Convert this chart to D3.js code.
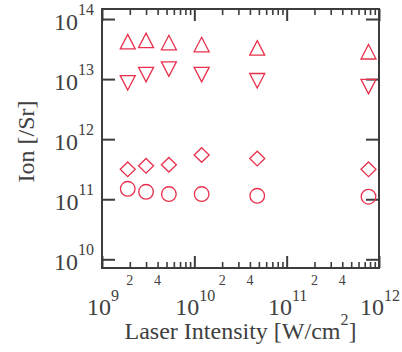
<!DOCTYPE html>
<html><head><meta charset="utf-8">
<script src="https://cdn.jsdelivr.net/npm/d3@7"></script>
<style>
html,body{margin:0;padding:0;background:#fff;}
svg{display:block;font-family:"Liberation Serif","Times New Roman",serif;}
</style></head>
<body><svg id="c" width="402" height="352"></svg>
<script>
const intensity = [1.9e9, 3.0e9, 5.3e9, 1.2e10, 4.8e10, 7.7e11];
const ionUp     = [4.2e13, 4.4e13, 4.05e13, 3.75e13, 3.3e13, 2.85e13];
const ionDown   = [8.7e12, 1.19e13, 1.47e13, 1.19e13, 9.4e12, 7.5e12];
const ionDiam   = [3.15e11, 3.6e11, 3.75e11, 5.45e11, 4.75e11, 3.15e11];
const ionCirc   = [1.49e11, 1.33e11, 1.22e11, 1.22e11, 1.14e11, 1.10e11];
const xMajor = [1e9, 1e10, 1e11, 1e12];
const xMajorExp = ["9", "10", "11", "12"];
const yMajor = [1e10, 1e11, 1e12, 1e13, 1e14];
const yMajorExp = ["10", "11", "12", "13", "14"];
const xMinorLabels = ["2", "4"];

const axisCol = "#3c3c3c", textCol = "#404040", red = "#e8304c";
const L = 102, R = 379, T = 9, B = 268;
const svg = d3.select("#c");

const x = d3.scaleLog().domain([1e9, 1e12]).range([L, R]);
const y = d3.scaleLog().domain([Math.pow(10, 9.855), Math.pow(10, 14.167)]).range([B, T]);

// minor x ticks
const xMinor = [];
for (const m of [1e9, 1e10, 1e11]) for (let k = 2; k <= 9; k++) xMinor.push(k * m);

function styleAxis(g){
  g.select(".domain").remove();
  g.selectAll(".tick line").attr("stroke", axisCol);
  g.selectAll("text").remove();
}
// bottom
svg.append("g").attr("transform", `translate(0,${B})`)
  .call(d3.axisBottom(x).tickValues(xMinor).tickSize(-6).tickFormat(""))
  .call(styleAxis).selectAll(".tick line").attr("stroke-width", 1.6);
svg.append("g").attr("transform", `translate(0,${B})`)
  .call(d3.axisBottom(x).tickValues(xMajor).tickSize(-12).tickFormat(""))
  .call(styleAxis).selectAll(".tick line").attr("stroke-width", 2);
// top
svg.append("g").attr("transform", `translate(0,${T})`)
  .call(d3.axisTop(x).tickValues(xMinor).tickSize(-6).tickFormat(""))
  .call(styleAxis).selectAll(".tick line").attr("stroke-width", 1.6);
svg.append("g").attr("transform", `translate(0,${T})`)
  .call(d3.axisTop(x).tickValues(xMajor).tickSize(-12).tickFormat(""))
  .call(styleAxis).selectAll(".tick line").attr("stroke-width", 2);
// left/right
svg.append("g").attr("transform", `translate(${L},0)`)
  .call(d3.axisLeft(y).tickValues(yMajor).tickSize(-13).tickFormat(""))
  .call(styleAxis).selectAll(".tick line").attr("stroke-width", 2);
svg.append("g").attr("transform", `translate(${R},0)`)
  .call(d3.axisRight(y).tickValues(yMajor).tickSize(-13).tickFormat(""))
  .call(styleAxis).selectAll(".tick line").attr("stroke-width", 2);

// frame
svg.append("rect").attr("x", L).attr("y", T).attr("width", R - L).attr("height", B - T)
  .attr("fill", "none").attr("stroke", axisCol).attr("stroke-width", 2);

// y tick labels
yMajor.forEach((v, i) => {
  const t = svg.append("text").attr("x", 94).attr("y", y(v) + 10.5)
    .attr("text-anchor", "end").attr("fill", textCol).attr("font-size", 24);
  t.append("tspan").text("10");
  t.append("tspan").attr("font-size", 16).attr("dy", -14.5).text(yMajorExp[i]);
});
// x major labels
xMajor.forEach((v, i) => {
  const t = svg.append("text").attr("x", x(v) + 1).attr("y", 315)
    .attr("text-anchor", "middle").attr("fill", textCol).attr("font-size", 24);
  t.append("tspan").text("10");
  t.append("tspan").attr("font-size", 16).attr("dy", -14).text(xMajorExp[i]);
});
// x minor labels
for (const m of [1e9, 1e10, 1e11]) {
  xMinorLabels.forEach(s => {
    svg.append("text").attr("x", x(+s * m)).attr("y", 285)
      .attr("text-anchor", "middle").attr("fill", textCol).attr("font-size", 14).text(s);
  });
}
// axis titles
const xt = svg.append("text").attr("x", (L + R) / 2).attr("y", 339)
  .attr("text-anchor", "middle").attr("fill", textCol).attr("font-size", 24);
xt.append("tspan").text("Laser Intensity [W/cm");
xt.append("tspan").attr("font-size", 16).attr("dy", -14).text("2");
xt.append("tspan").attr("dy", 14).text("]");

svg.append("text").attr("transform", `translate(34,${(T + B) / 2 + 3}) rotate(-90)`)
  .attr("text-anchor", "middle").attr("fill", textCol).attr("font-size", 24).text("Ion [/Sr]");

// markers
const mk = svg.append("g").attr("fill", "none").attr("stroke", red).attr("stroke-width", 1.3);
const pts = (arr) => intensity.map((xi, i) => [x(xi), y(arr[i])]);
mk.selectAll(".up").data(pts(ionUp)).join("path")
  .attr("transform", d => `translate(${d[0]},${d[1]})`).attr("d", "M0,-7.3L7.5,7.2L-7.5,7.2Z");
mk.selectAll(".dn").data(pts(ionDown)).join("path")
  .attr("transform", d => `translate(${d[0]},${d[1]})`).attr("d", "M0,7.3L7.5,-7.2L-7.5,-7.2Z");
mk.selectAll(".dm").data(pts(ionDiam)).join("path")
  .attr("transform", d => `translate(${d[0]},${d[1]})`).attr("d", "M0,-7.3L7.5,0L0,7.3L-7.5,0Z");
mk.selectAll("circle").data(pts(ionCirc)).join("circle")
  .attr("cx", d => d[0]).attr("cy", d => d[1]).attr("r", 7.3);
</script></body></html>
